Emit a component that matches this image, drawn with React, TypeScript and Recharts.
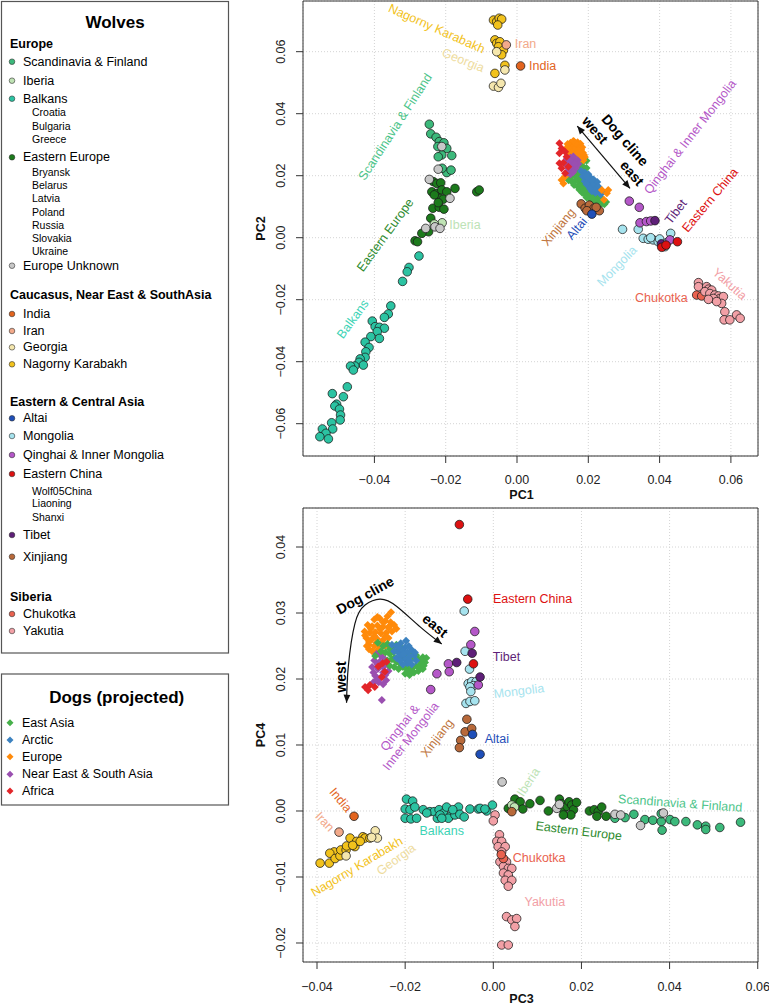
import React from 'react';
import { ScatterChart, Scatter, XAxis, YAxis, CartesianGrid, ReferenceArea, Curve } from 'recharts';

type Pt = [number, number];
const FONT = '"Liberation Sans", Arial, Helvetica, sans-serif';

// ---------- colours ----------
const C = {
  scandinavia: '#3CB97B', iberia: '#BFE3B4', balkans: '#2BC3A2', easternEurope: '#1C7A1C', unknown: '#C8C8C8',
  india: '#E2641E', iran: '#F2A98A', georgia: '#F5E7AE', karabakh: '#F2C21C',
  altai: '#1F4FB8', mongolia: '#A6E3EE', qinghai: '#B457C8', easternChina: '#DD1111', tibet: '#5E1F78', xinjiang: '#B8693A',
  chukotka: '#E9624F', yakutia: '#F2A0A6',
  dogEastAsia: '#46B04A', dogArctic: '#3C82C0', dogEurope: '#FF8A0A', dogNearEast: '#9A4FB0', dogAfrica: '#E2262A',
};

// ---------- axes ----------
const pc1Domain: Pt = [-0.06003, 0.0676];
const pc2Domain: Pt = [-0.07042, 0.07635];
const pc1Ticks = [-0.04, -0.02, 0, 0.02, 0.04, 0.06];
const pc2Ticks = [-0.06, -0.04, -0.02, 0, 0.02, 0.04, 0.06];
const pc3Domain: Pt = [-0.04318, 0.06006];
const pc4Domain: Pt = [-0.02288, 0.04591];
const pc3Ticks = [-0.04, -0.02, 0, 0.02, 0.04, 0.06];
const pc4Ticks = [-0.02, -0.01, 0, 0.01, 0.02, 0.03, 0.04];

// ---------- PC1 / PC2 wolves ----------
const pc12Scandinavia: Pt[] = [[-0.0246,0.0366],[-0.0242,0.0335],[-0.0227,0.0324],[-0.0218,0.0310],[-0.0222,0.0294],[-0.0205,0.0306],[-0.0197,0.0288],[-0.0211,0.0267],[-0.0183,0.0265],[-0.0221,0.0261],[-0.0197,0.0210],[-0.0185,0.0218],[-0.0210,0.0224]];
const pc12Iberia: Pt[] = [[-0.0210,0.0048],[-0.0232,0.0044]];
const pc12Unknown: Pt[] = [[-0.0211,0.0294],[-0.0221,0.0221],[-0.0246,0.0188],[-0.0188,0.0127],[-0.0230,0.0035],[-0.0216,0.0030],[-0.0256,0.0030]];
const pc12EasternEurope: Pt[] = [[-0.0235,0.0181],[-0.0225,0.0175],[-0.0214,0.0177],[-0.0239,0.0148],[-0.0225,0.0143],[-0.0211,0.0154],[-0.0197,0.0148],[-0.0174,0.0159],[-0.0216,0.0127],[-0.0207,0.0124],[-0.0232,0.0138],[-0.0236,0.0095],[-0.0218,0.0098],[-0.0205,0.0092],[-0.0221,0.0113],[-0.0113,0.0148],[-0.0106,0.0154],[-0.0242,0.0063],[-0.0248,0.0019],[-0.0267,0.0014],[-0.0286,-0.0010],[-0.0279,-0.0013]];
const pc12Balkans: Pt[] = [[-0.0275,-0.0059],[-0.0303,-0.0096],[-0.0308,-0.0110],[-0.0321,-0.0141],[-0.0354,-0.0220],[-0.0361,-0.0246],[-0.0372,-0.0257],[-0.0406,-0.0269],[-0.0398,-0.0287],[-0.0386,-0.0289],[-0.0372,-0.0292],[-0.0392,-0.0303],[-0.0386,-0.0325],[-0.0410,-0.0319],[-0.0426,-0.0337],[-0.0415,-0.0354],[-0.0424,-0.0368],[-0.0426,-0.0386],[-0.0440,-0.0391],[-0.0443,-0.0402],[-0.0431,-0.0411],[-0.0455,-0.0414],[-0.0467,-0.0414],[-0.0459,-0.0427],[-0.0476,-0.0481],[-0.0487,-0.0513],[-0.0518,-0.0503],[-0.0506,-0.0537],[-0.0511,-0.0543],[-0.0498,-0.0553],[-0.0495,-0.0572],[-0.0496,-0.0588],[-0.0520,-0.0597],[-0.0517,-0.0617],[-0.0546,-0.0617],[-0.0536,-0.0631],[-0.0553,-0.0642],[-0.0529,-0.0649]];
const pc12Karabakh: Pt[] = [[-0.0066,0.0702],[-0.0057,0.0697],[-0.0050,0.0708],[-0.0043,0.0705],[-0.0054,0.0686],[-0.0062,0.0638],[-0.0057,0.0627],[-0.0048,0.0632],[-0.0052,0.0616],[-0.0038,0.0605],[-0.0043,0.0590],[-0.0034,0.0556],[-0.0062,0.0530]];
const pc12Georgia: Pt[] = [[-0.0057,0.0600],[-0.0034,0.0541],[-0.0066,0.0489],[-0.0052,0.0485],[-0.0045,0.0498]];
const pc12Iran: Pt[] = [[-0.0030,0.0622]];
const pc12India: Pt[] = [[0.0010,0.0554]];
const pc12Xinjiang: Pt[] = [[0.0180,0.0109],[0.0191,0.0095],[0.0203,0.0105],[0.0216,0.0095],[0.0231,0.0087],[0.0222,0.0098],[0.0196,0.0087]];
const pc12Altai: Pt[] = [[0.0210,0.0076]];
const pc12Mongolia: Pt[] = [[0.0296,0.0027],[0.0340,0.0027],[0.0431,0.0014],[0.0354,-0.0002],[0.0368,-0.0005],[0.0382,-0.0007],[0.0396,-0.0013],[0.0420,-0.0016],[0.0415,-0.0029],[0.0375,0.0000],[0.0400,-0.0004]];
const pc12Qinghai: Pt[] = [[0.0315,0.0118],[0.0343,0.0098],[0.0345,0.0048],[0.0363,0.0052],[0.0375,0.0054],[0.0429,-0.0007]];
const pc12Tibet: Pt[] = [[0.0387,0.0055],[0.0410,-0.0026],[0.0405,-0.0020]];
const pc12EasternChina: Pt[] = [[0.0450,-0.0013],[0.0406,-0.0031],[0.0418,-0.0024]];
const pc12Chukotka: Pt[] = [[0.0504,-0.0185],[0.0518,-0.0188]];
const pc12Yakutia: Pt[] = [[0.0509,-0.0145],[0.0509,-0.0158],[0.0532,-0.0158],[0.0537,-0.0166],[0.0546,-0.0169],[0.0527,-0.0174],[0.0541,-0.0180],[0.0555,-0.0185],[0.0565,-0.0188],[0.0569,-0.0196],[0.0579,-0.0190],[0.0551,-0.0196],[0.0537,-0.0199],[0.0574,-0.0212],[0.0583,-0.0239],[0.0581,-0.0265],[0.0597,-0.0265],[0.0616,-0.0249],[0.0626,-0.0260],[0.0560,-0.0206]];

// ---------- PC1 / PC2 dogs ----------
const pc12DogEurope: Pt[] = [[0.0150,0.0306],[0.0160,0.0310],[0.0170,0.0308],[0.0178,0.0303],[0.0145,0.0298],[0.0155,0.0299],[0.0165,0.0300],[0.0175,0.0296],[0.0183,0.0292],[0.0140,0.0290],[0.0150,0.0289],[0.0160,0.0291],[0.0170,0.0288],[0.0180,0.0284],[0.0145,0.0280],[0.0155,0.0281],[0.0165,0.0279],[0.0175,0.0276],[0.0185,0.0274],[0.0150,0.0271],[0.0160,0.0268],[0.0170,0.0266],[0.0180,0.0264],[0.0190,0.0260],[0.0176,0.0255],[0.0186,0.0250],[0.0238,0.0154],[0.0252,0.0143],[0.0244,0.0122],[0.0256,0.0154],[0.0125,0.0186],[0.0135,0.0197],[0.0130,0.0175],[0.0142,0.0302],[0.0157,0.0294],[0.0168,0.0293],[0.0148,0.0285],[0.0162,0.0285],[0.0172,0.0282],[0.0155,0.0275],[0.0168,0.0272],[0.0178,0.0270],[0.0188,0.0267],[0.0163,0.0262],[0.0173,0.0259],[0.0182,0.0256],[0.0165,0.0304],[0.0158,0.0312]];
const pc12DogNearEast: Pt[] = [[0.0140,0.0255],[0.0150,0.0258],[0.0160,0.0253],[0.0170,0.0250],[0.0145,0.0244],[0.0155,0.0246],[0.0165,0.0241],[0.0140,0.0233],[0.0150,0.0235],[0.0160,0.0230],[0.0172,0.0238],[0.0145,0.0222],[0.0155,0.0219],[0.0140,0.0210],[0.0165,0.0225],[0.0150,0.0205],[0.0158,0.0262],[0.0148,0.0250],[0.0162,0.0238],[0.0148,0.0228],[0.0158,0.0212],[0.0142,0.0240]];
const pc12DogAfrica: Pt[] = [[0.0119,0.0305],[0.0125,0.0288],[0.0119,0.0272],[0.0135,0.0277],[0.0119,0.0240],[0.0130,0.0242],[0.0139,0.0261],[0.0125,0.0224],[0.0135,0.0208],[0.0144,0.0229]];
const pc12DogEastAsia: Pt[] = [[0.0178,0.0262],[0.0188,0.0256],[0.0195,0.0248],[0.0170,0.0242],[0.0180,0.0240],[0.0150,0.0228],[0.0160,0.0222],[0.0170,0.0226],[0.0180,0.0220],[0.0140,0.0200],[0.0150,0.0195],[0.0160,0.0205],[0.0170,0.0200],[0.0145,0.0185],[0.0155,0.0180],[0.0165,0.0185],[0.0175,0.0178],[0.0160,0.0170],[0.0170,0.0165],[0.0180,0.0168],[0.0190,0.0172],[0.0175,0.0155],[0.0185,0.0152],[0.0195,0.0150],[0.0205,0.0148],[0.0190,0.0140],[0.0200,0.0135],[0.0210,0.0138],[0.0220,0.0135],[0.0205,0.0125],[0.0215,0.0122],[0.0225,0.0125],[0.0235,0.0130],[0.0220,0.0115],[0.0230,0.0112],[0.0240,0.0118],[0.0245,0.0108],[0.0225,0.0105],[0.0200,0.0160],[0.0210,0.0175],[0.0185,0.0230],[0.0195,0.0225],[0.0165,0.0212],[0.0175,0.0208],[0.0185,0.0205],[0.0150,0.0212],[0.0168,0.0192],[0.0180,0.0188],[0.0185,0.0160],[0.0197,0.0158],[0.0212,0.0130],[0.0228,0.0140],[0.0238,0.0110],[0.0250,0.0115],[0.0195,0.0130],[0.0183,0.0145]];
const pc12DogArctic: Pt[] = [[0.0180,0.0215],[0.0190,0.0210],[0.0200,0.0205],[0.0185,0.0198],[0.0195,0.0192],[0.0205,0.0195],[0.0215,0.0188],[0.0190,0.0182],[0.0200,0.0178],[0.0210,0.0175],[0.0220,0.0170],[0.0205,0.0165],[0.0215,0.0160],[0.0225,0.0158],[0.0230,0.0150],[0.0220,0.0145],[0.0235,0.0140],[0.0210,0.0150],[0.0200,0.0190],[0.0225,0.0180],[0.0195,0.0200],[0.0210,0.0185],[0.0195,0.0172],[0.0212,0.0168],[0.0228,0.0165],[0.0218,0.0152],[0.0240,0.0148],[0.0205,0.0158]];

// ---------- PC3 / PC4 wolves ----------
const pc34Scandinavia: Pt[] = [[0.0276,-0.0011],[0.0299,-0.0010],[0.0319,-0.0005],[0.0344,-0.0013],[0.0362,-0.0014],[0.0381,-0.0016],[0.0381,-0.0004],[0.0383,-0.0029],[0.0401,-0.0013],[0.0412,-0.0016],[0.0437,-0.0016],[0.0463,-0.0021],[0.0482,-0.0023],[0.0482,-0.0028],[0.0514,-0.0025],[0.0561,-0.0017]];
const pc34Iberia: Pt[] = [[0.0042,0.0009],[0.0048,0.0006]];
const pc34Unknown: Pt[] = [[0.0020,0.0044],[0.0144,0.0004],[0.0150,0.0010],[0.0276,-0.0005],[0.0289,-0.0006],[0.0334,-0.0022],[0.0386,-0.0003]];
const pc34EasternEurope: Pt[] = [[0.0049,0.0018],[0.0061,0.0014],[0.0034,0.0004],[0.0067,0.0003],[0.0083,0.0011],[0.0106,0.0016],[0.0125,0.0000],[0.0150,0.0018],[0.0155,0.0011],[0.0159,0.0002],[0.0167,0.0007],[0.0172,0.0014],[0.0178,0.0009],[0.0182,0.0002],[0.0189,0.0013],[0.0176,-0.0006],[0.0159,-0.0006],[0.0218,0.0000],[0.0229,0.0002],[0.0238,-0.0001],[0.0246,0.0006],[0.0235,-0.0008],[0.0256,-0.0008]];
const pc34Balkans: Pt[] = [[-0.0197,0.0018],[-0.0183,0.0015],[-0.0200,0.0003],[-0.0189,0.0002],[-0.0178,0.0006],[-0.0200,-0.0011],[-0.0187,-0.0012],[-0.0174,-0.0011],[-0.0159,0.0002],[-0.0144,-0.0001],[-0.0134,-0.0001],[-0.0123,0.0002],[-0.0113,-0.0003],[-0.0106,0.0006],[-0.0098,-0.0008],[-0.0102,-0.0011],[-0.0087,-0.0006],[-0.0079,0.0006],[-0.0076,-0.0005],[-0.0066,-0.0009],[-0.0127,-0.0011],[-0.0121,-0.0006],[-0.0092,0.0002],[-0.0117,-0.0011],[-0.0151,-0.0003],[-0.0053,0.0003],[-0.0034,0.0003],[-0.0015,0.0000],[-0.0002,0.0009],[-0.0030,0.0004],[-0.0019,0.0003]];
const pc34Karabakh: Pt[] = [[-0.0393,-0.0079],[-0.0372,-0.0079],[-0.0361,-0.0062],[-0.0371,-0.0064],[-0.0359,-0.0072],[-0.0348,-0.0068],[-0.0346,-0.0059],[-0.0334,-0.0059],[-0.0333,-0.0053],[-0.0325,-0.0041],[-0.0314,-0.0054],[-0.0310,-0.0046],[-0.0296,-0.0039],[-0.0291,-0.0041],[-0.0280,-0.0041],[-0.0319,-0.0052],[-0.0302,-0.0046]];
const pc34Georgia: Pt[] = [[-0.0268,-0.0030],[-0.0263,-0.0041],[-0.0334,-0.0068],[-0.0276,-0.0040]];
const pc34Iran: Pt[] = [[-0.0350,-0.0032]];
const pc34India: Pt[] = [[-0.0316,-0.0008]];
const pc34Xinjiang: Pt[] = [[-0.0060,0.0139],[-0.0064,0.0120],[-0.0049,0.0125],[-0.0074,0.0107],[-0.0077,0.0096],[0.0042,-0.0001]];
const pc34Altai: Pt[] = [[-0.0047,0.0116],[-0.0030,0.0086]];
const pc34Mongolia: Pt[] = [[-0.0066,0.0303],[-0.0064,0.0242],[-0.0054,0.0215],[-0.0057,0.0193],[-0.0049,0.0196],[-0.0039,0.0196],[-0.0045,0.0190],[-0.0053,0.0188],[-0.0051,0.0181],[-0.0062,0.0163],[-0.0053,0.0166],[-0.0042,0.0167]];
const pc34Qinghai: Pt[] = [[-0.0042,0.0272],[-0.0051,0.0252],[-0.0102,0.0223],[-0.0100,0.0211],[-0.0034,0.0191],[-0.0142,0.0184],[-0.0128,0.0208]];
const pc34Tibet: Pt[] = [[-0.0048,0.0239],[-0.0083,0.0225],[-0.0030,0.0203]];
const pc34EasternChina: Pt[] = [[-0.0077,0.0434],[-0.0058,0.0321],[-0.0045,0.0223]];
const pc34Chukotka: Pt[] = [[0.0023,-0.0072],[0.0018,-0.0066]];
const pc34Yakutia: Pt[] = [[0.0004,-0.0006],[0.0000,-0.0015],[0.0014,-0.0036],[0.0008,-0.0046],[0.0019,-0.0046],[0.0011,-0.0054],[0.0027,-0.0054],[0.0019,-0.0062],[0.0015,-0.0077],[0.0030,-0.0077],[0.0023,-0.0084],[0.0034,-0.0087],[0.0042,-0.0087],[0.0023,-0.0094],[0.0034,-0.0097],[0.0027,-0.0105],[0.0042,-0.0105],[0.0034,-0.0114],[0.0030,-0.0160],[0.0042,-0.0165],[0.0053,-0.0163],[0.0049,-0.0175],[0.0019,-0.0203],[0.0034,-0.0203]];

// ---------- PC3 / PC4 dogs ----------
const pc34DogEurope: Pt[] = [[-0.0232,0.0301],[-0.0270,0.0290],[-0.0258,0.0292],[-0.0245,0.0288],[-0.0233,0.0286],[-0.0285,0.0282],[-0.0275,0.0280],[-0.0263,0.0281],[-0.0250,0.0279],[-0.0238,0.0278],[-0.0225,0.0282],[-0.0292,0.0272],[-0.0280,0.0270],[-0.0268,0.0271],[-0.0255,0.0269],[-0.0243,0.0270],[-0.0230,0.0272],[-0.0288,0.0262],[-0.0276,0.0260],[-0.0264,0.0261],[-0.0250,0.0259],[-0.0238,0.0262],[-0.0283,0.0252],[-0.0270,0.0250],[-0.0258,0.0252],[-0.0245,0.0250],[-0.0275,0.0242],[-0.0262,0.0244],[-0.0252,0.0240],[-0.0282,0.0245],[-0.0263,0.0294],[-0.0250,0.0286],[-0.0278,0.0276],[-0.0257,0.0275],[-0.0236,0.0280],[-0.0291,0.0266],[-0.0270,0.0265],[-0.0245,0.0264],[-0.0282,0.0256],[-0.0265,0.0255],[-0.0252,0.0254],[-0.0287,0.0250],[-0.0240,0.0295],[-0.0220,0.0276]];
const pc34DogNearEast: Pt[] = [[-0.0265,0.0238],[-0.0255,0.0235],[-0.0270,0.0228],[-0.0258,0.0226],[-0.0246,0.0230],[-0.0275,0.0218],[-0.0262,0.0215],[-0.0250,0.0218],[-0.0240,0.0222],[-0.0268,0.0205],[-0.0256,0.0202],[-0.0245,0.0206],[-0.0260,0.0195],[-0.0250,0.0192],[-0.0238,0.0212],[-0.0253,0.0168],[-0.0272,0.0195],[-0.0262,0.0222],[-0.0250,0.0210],[-0.0265,0.0198],[-0.0243,0.0198],[-0.0272,0.0210]];
const pc34DogAfrica: Pt[] = [[-0.0291,0.0188],[-0.0280,0.0191],[-0.0269,0.0188],[-0.0284,0.0183],[-0.0261,0.0219],[-0.0251,0.0224],[-0.0246,0.0211],[-0.0253,0.0203],[-0.0242,0.0226]];
const pc34DogEastAsia: Pt[] = [[-0.0262,0.0255],[-0.0250,0.0250],[-0.0240,0.0253],[-0.0230,0.0248],[-0.0220,0.0252],[-0.0255,0.0242],[-0.0245,0.0240],[-0.0235,0.0238],[-0.0225,0.0241],[-0.0215,0.0244],[-0.0205,0.0240],[-0.0240,0.0228],[-0.0230,0.0230],[-0.0220,0.0226],[-0.0210,0.0230],[-0.0200,0.0232],[-0.0190,0.0228],[-0.0180,0.0232],[-0.0170,0.0230],[-0.0160,0.0233],[-0.0225,0.0218],[-0.0215,0.0215],[-0.0205,0.0218],[-0.0195,0.0214],[-0.0185,0.0216],[-0.0175,0.0220],[-0.0165,0.0222],[-0.0155,0.0225],[-0.0200,0.0208],[-0.0190,0.0206],[-0.0180,0.0210],[-0.0170,0.0212],[-0.0160,0.0215],[-0.0152,0.0232],[-0.0268,0.0235],[-0.0235,0.0220],[-0.0235,0.0245],[-0.0210,0.0248],[-0.0198,0.0236],[-0.0186,0.0238],[-0.0175,0.0236],[-0.0163,0.0228],[-0.0210,0.0222],[-0.0196,0.0220],[-0.0168,0.0217],[-0.0185,0.0212],[-0.0158,0.0220],[-0.0225,0.0232],[-0.0195,0.0210]];
const pc34DogArctic: Pt[] = [[-0.0230,0.0252],[-0.0220,0.0250],[-0.0210,0.0254],[-0.0200,0.0248],[-0.0225,0.0242],[-0.0215,0.0240],[-0.0205,0.0243],[-0.0195,0.0240],[-0.0185,0.0244],[-0.0220,0.0232],[-0.0210,0.0235],[-0.0200,0.0230],[-0.0190,0.0234],[-0.0180,0.0236],[-0.0195,0.0224],[-0.0185,0.0222],[-0.0205,0.0222],[-0.0175,0.0228],[-0.0198,0.0258],[-0.0215,0.0248],[-0.0192,0.0250],[-0.0212,0.0228],[-0.0190,0.0228],[-0.0178,0.0240],[-0.0203,0.0238]];

// ---------- annotations ----------
const pc12Cline: Pt[] = [[0.0169,0.0360],[0.0317,0.0159]];
const pc34Cline: Pt[] = [[-0.0333,0.0164],[-0.0329,0.0219],[-0.0314,0.0284],[-0.0291,0.0312],[-0.0257,0.0321],[-0.0219,0.0310],[-0.0166,0.0279],[-0.0117,0.0253]];

type Lab = { text: string; x: number; y: number; angle: number; color?: string; bold?: boolean };
const pc12Labels: Lab[] = [
  { text: 'Nagorny Karabakh', x: -0.0225, y: 0.0675, angle: 24, color: '#F2C21C' },
  { text: 'Georgia', x: -0.0151, y: 0.0573, angle: 22, color: '#EEDC9E' },
  { text: 'Iran', x: 0.0024, y: 0.0627, angle: 0, color: '#F2A98A' },
  { text: 'India', x: 0.0072, y: 0.0554, angle: 0, color: '#E2641E' },
  { text: 'Scandinavia & Finland', x: -0.0342, y: 0.0358, angle: -57, color: '#4CC489' },
  { text: 'Eastern Europe', x: -0.0370, y: 0.0009, angle: -54, color: '#2E8B2E' },
  { text: 'Iberia', x: -0.0146, y: 0.0041, angle: 0, color: '#BDE3B6' },
  { text: 'Balkans', x: -0.0461, y: -0.0262, angle: -54, color: '#3DD3B5' },
  { text: 'Dog cline', x: 0.0303, y: 0.0315, angle: 49, bold: true },
  { text: 'west', x: 0.0219, y: 0.0347, angle: 49, bold: true },
  { text: 'east', x: 0.0323, y: 0.0208, angle: 49, bold: true },
  { text: 'Qinghai & Inner Mongolia', x: 0.0485, y: 0.0326, angle: -52, color: '#B457C8' },
  { text: 'Tibet', x: 0.0445, y: 0.0084, angle: -52, color: '#5E1F78' },
  { text: 'Eastern China', x: 0.0541, y: 0.0122, angle: -50, color: '#DD1111' },
  { text: 'Xinjiang', x: 0.0116, y: 0.0035, angle: -50, color: '#C0763E' },
  { text: 'Altai', x: 0.0167, y: 0.0030, angle: -50, color: '#1F4FB8' },
  { text: 'Mongolia', x: 0.0280, y: -0.0091, angle: -46, color: '#A6E3EE' },
  { text: 'Chukotka', x: 0.0405, y: -0.0192, angle: 0, color: '#E9624F' },
  { text: 'Yakutia', x: 0.0597, y: -0.0149, angle: 42, color: '#F2A0A6' },
];
const pc34Labels: Lab[] = [
  { text: 'Eastern China', x: 0.0089, y: 0.0322, angle: 0, color: '#DD1111' },
  { text: 'Tibet', x: 0.0030, y: 0.0234, angle: 0, color: '#5E1F78' },
  { text: 'Mongolia', x: 0.0058, y: 0.0182, angle: -7, color: '#A6E3EE' },
  { text: 'Altai', x: 0.0008, y: 0.0109, angle: 0, color: '#1F4FB8' },
  { text: 'Xinjiang', x: -0.0128, y: 0.0111, angle: -52, color: '#C0763E' },
  { text: 'Qinghai &\nInner Mongolia', x: -0.0200, y: 0.0120, angle: -52, color: '#B457C8' },
  { text: 'Dog cline', x: -0.0291, y: 0.0327, angle: -29, bold: true },
  { text: 'east', x: -0.0132, y: 0.0281, angle: 40, bold: true },
  { text: 'west', x: -0.0346, y: 0.0203, angle: -90, bold: true },
  { text: 'India', x: -0.0346, y: 0.0017, angle: 50, color: '#E2641E' },
  { text: 'Iran', x: -0.0382, y: -0.0016, angle: 47, color: '#F2A98A' },
  { text: 'Nagorny Karabakh', x: -0.0310, y: -0.0084, angle: -31, color: '#F2C21C' },
  { text: 'Georgia', x: -0.0221, y: -0.0073, angle: -36, color: '#EEDC9E' },
  { text: 'Balkans', x: -0.0117, y: -0.0030, angle: 0, color: '#3DD3B5' },
  { text: 'Iberia', x: 0.0079, y: 0.0044, angle: -57, color: '#BDE3B6' },
  { text: 'Eastern Europe', x: 0.0194, y: -0.0030, angle: 7, color: '#2E8B2E' },
  { text: 'Scandinavia & Finland', x: 0.0424, y: 0.0012, angle: 4, color: '#4CC489' },
  { text: 'Chukotka', x: 0.0104, y: -0.0070, angle: 0, color: '#E9624F' },
  { text: 'Yakutia', x: 0.0117, y: -0.0138, angle: 0, color: '#F2A0A6' },
];

// ---------- series tables ----------
type Series = { name: string; color: string; pts: Pt[] };
const pc12Dogs: Series[] = [
  { name: 'East Asia', color: C.dogEastAsia, pts: pc12DogEastAsia },
  { name: 'Arctic', color: C.dogArctic, pts: pc12DogArctic },
  { name: 'Europe', color: C.dogEurope, pts: pc12DogEurope },
  { name: 'Near East & South Asia', color: C.dogNearEast, pts: pc12DogNearEast },
  { name: 'Africa', color: C.dogAfrica, pts: pc12DogAfrica },
];
const pc34Dogs: Series[] = [
  { name: 'Europe', color: C.dogEurope, pts: pc34DogEurope },
  { name: 'Near East & South Asia', color: C.dogNearEast, pts: pc34DogNearEast },
  { name: 'East Asia', color: C.dogEastAsia, pts: pc34DogEastAsia },
  { name: 'Arctic', color: C.dogArctic, pts: pc34DogArctic },
  { name: 'Africa', color: C.dogAfrica, pts: pc34DogAfrica },
];
const pc12Wolves: Series[] = [
  { name: 'Balkans', color: C.balkans, pts: pc12Balkans },
  { name: 'Scandinavia & Finland', color: C.scandinavia, pts: pc12Scandinavia },
  { name: 'Eastern Europe', color: C.easternEurope, pts: pc12EasternEurope },
  { name: 'Iberia', color: C.iberia, pts: pc12Iberia },
  { name: 'Europe Unknown', color: C.unknown, pts: pc12Unknown },
  { name: 'Nagorny Karabakh', color: C.karabakh, pts: pc12Karabakh },
  { name: 'Georgia', color: C.georgia, pts: pc12Georgia },
  { name: 'Iran', color: C.iran, pts: pc12Iran },
  { name: 'India', color: C.india, pts: pc12India },
  { name: 'Xinjiang', color: C.xinjiang, pts: pc12Xinjiang },
  { name: 'Altai', color: C.altai, pts: pc12Altai },
  { name: 'Mongolia', color: C.mongolia, pts: pc12Mongolia },
  { name: 'Qinghai & Inner Mongolia', color: C.qinghai, pts: pc12Qinghai },
  { name: 'Tibet', color: C.tibet, pts: pc12Tibet },
  { name: 'Eastern China', color: C.easternChina, pts: pc12EasternChina },
  { name: 'Chukotka', color: C.chukotka, pts: pc12Chukotka },
  { name: 'Yakutia', color: C.yakutia, pts: pc12Yakutia },
];
const pc34Wolves: Series[] = [
  { name: 'Balkans', color: C.balkans, pts: pc34Balkans },
  { name: 'Scandinavia & Finland', color: C.scandinavia, pts: pc34Scandinavia },
  { name: 'Eastern Europe', color: C.easternEurope, pts: pc34EasternEurope },
  { name: 'Europe Unknown', color: C.unknown, pts: pc34Unknown },
  { name: 'Iberia', color: C.iberia, pts: pc34Iberia },
  { name: 'Nagorny Karabakh', color: C.karabakh, pts: pc34Karabakh },
  { name: 'Georgia', color: C.georgia, pts: pc34Georgia },
  { name: 'Iran', color: C.iran, pts: pc34Iran },
  { name: 'India', color: C.india, pts: pc34India },
  { name: 'Yakutia', color: C.yakutia, pts: pc34Yakutia },
  { name: 'Chukotka', color: C.chukotka, pts: pc34Chukotka },
  { name: 'Xinjiang', color: C.xinjiang, pts: pc34Xinjiang },
  { name: 'Altai', color: C.altai, pts: pc34Altai },
  { name: 'Mongolia', color: C.mongolia, pts: pc34Mongolia },
  { name: 'Qinghai & Inner Mongolia', color: C.qinghai, pts: pc34Qinghai },
  { name: 'Tibet', color: C.tibet, pts: pc34Tibet },
  { name: 'Eastern China', color: C.easternChina, pts: pc34EasternChina },
];

// ---------- legend text ----------
const wolvesLegendRows: [string, string, string | null, number][] = [
  ['head', 'Europe', null, 44],
  ['item', 'Scandinavia & Finland', C.scandinavia, 61.7],
  ['item', 'Iberia', C.iberia, 80.7],
  ['item', 'Balkans', C.balkans, 98.7],
  ['sub', 'Croatia', null, 112.3],
  ['sub', 'Bulgaria', null, 125.7],
  ['sub', 'Greece', null, 139],
  ['item', 'Eastern Europe', C.easternEurope, 157.3],
  ['sub', 'Bryansk', null, 172],
  ['sub', 'Belarus', null, 185],
  ['sub', 'Latvia', null, 198.3],
  ['sub', 'Poland', null, 211.7],
  ['sub', 'Russia', null, 225],
  ['sub', 'Slovakia', null, 238],
  ['sub', 'Ukraine', null, 251],
  ['item', 'Europe Unknown', C.unknown, 265.7],
  ['head', 'Caucasus, Near East & SouthAsia', null, 295],
  ['item', 'India', C.india, 314],
  ['item', 'Iran', C.iran, 331],
  ['item', 'Georgia', C.georgia, 347.3],
  ['item', 'Nagorny Karabakh', C.karabakh, 364.3],
  ['head', 'Eastern & Central Asia', null, 401.7],
  ['item', 'Altai', C.altai, 418.3],
  ['item', 'Mongolia', C.mongolia, 436],
  ['item', 'Qinghai & Inner Mongolia', C.qinghai, 455],
  ['item', 'Eastern China', C.easternChina, 474],
  ['sub', 'Wolf05China', null, 490.7],
  ['sub', 'Liaoning', null, 503.3],
  ['sub', 'Shanxi', null, 516.7],
  ['item', 'Tibet', C.tibet, 535],
  ['item', 'Xinjiang', C.xinjiang, 556.7],
  ['head', 'Siberia', null, 596.7],
  ['item', 'Chukotka', C.chukotka, 614],
  ['item', 'Yakutia', C.yakutia, 631],
];
const dogLegendRows: [string, string, number][] = [
  ['East Asia', C.dogEastAsia, 722.7],
  ['Arctic', C.dogArctic, 740],
  ['Europe', C.dogEurope, 756.7],
  ['Near East & South Asia', C.dogNearEast, 774.3],
  ['Africa', C.dogAfrica, 791],
];

// ---------- helpers ----------
const toObjs = (a: Pt[]) => a.map(([x, y]) => ({ x, y }));
const fmt = (v: number) => (v < 0 ? '\u2212' : '') + Math.abs(v).toFixed(2);

const circleShape = (color: string) => (p: any) => (
  <circle cx={p.cx} cy={p.cy} r={4.3} fill={color} stroke="#1a1a1a" strokeWidth={0.75} />
);
const diamondShape = (color: string) => (p: any) => {
  const s = 4;
  return <polygon points={`${p.cx},${p.cy - s} ${p.cx + s},${p.cy} ${p.cx},${p.cy + s} ${p.cx - s},${p.cy}`} fill={color} />;
};
const labelShape = (p: any) => {
  const d: Lab = p.payload;
  const lines = d.text.split('\n');
  const { cx, cy } = p;
  return (
    <text x={cx} y={cy} transform={`rotate(${d.angle} ${cx} ${cy})`} textAnchor="middle"
      fill={d.color || '#000'} fontSize={d.bold ? 14 : 12.5} fontWeight={d.bold ? 'bold' : 'normal'} fontFamily={FONT}>
      {lines.map((l, i) => (
        <tspan key={i} x={cx} dy={i === 0 ? `${0.35 - (lines.length - 1) * 0.55}em` : '1.1em'}>{l}</tspan>
      ))}
    </text>
  );
};
const arrowHead = (from: any, to: any, key: string) => {
  const a = Math.atan2(to.y - from.y, to.x - from.x);
  const L = 8, W = 3.4;
  const bx = to.x - L * Math.cos(a), by = to.y - L * Math.sin(a);
  const px = -Math.sin(a) * W, py = Math.cos(a) * W;
  return <polygon key={key} points={`${to.x},${to.y} ${bx + px},${by + py} ${bx - px},${by - py}`} fill="#111" />;
};
const arrowLine = (curveType: string) => (lp: any) => {
  const pts = lp.points as { x: number; y: number }[];
  const n = pts.length;
  return (
    <g>
      <Curve points={pts as any} type={curveType as any} stroke="#111" fill="none" strokeWidth={1.2} />
      {arrowHead(pts[1], pts[0], 's')}
      {arrowHead(pts[n - 2], pts[n - 1], 'e')}
    </g>
  );
};

const xTick = (dy: number) => (p: any) => (
  <text x={p.x} y={p.y} dy={dy} textAnchor="middle" fontSize={12.5} fill="#222" fontFamily={FONT}>{fmt(p.payload.value)}</text>
);
const yTick = (p: any) => {
  const x = p.x - 9;
  return (
    <text x={x} y={p.y} transform={`rotate(-90 ${x} ${p.y})`} textAnchor="middle" fontSize={12.5} fill="#222" fontFamily={FONT}>{fmt(p.payload.value)}</text>
  );
};

type PanelProps = {
  top: number; height: number; marginTop: number; axisH: number; titleBaseline: number;
  xDomain: Pt; yDomain: Pt; xTicks: number[]; yTicks: number[];
  xTitle: string; yTitle: string; xTickDy: number;
  dogs: Series[]; wolves: Series[]; labels: Lab[]; cline: Pt[]; clineType: string;
};

const Panel = (p: PanelProps) => {
  const plotTop = p.marginTop;
  const plotH = p.height - p.marginTop - p.axisH;
  return (
    <div style={{ position: 'absolute', left: 0, top: p.top }}>
      <ScatterChart width={769} height={p.height} margin={{ top: p.marginTop, right: 11, bottom: 0, left: 0 }}>
        <CartesianGrid stroke="#d4d4d4" strokeDasharray="1 2" />
        <XAxis type="number" dataKey="x" domain={p.xDomain} ticks={p.xTicks} allowDataOverflow interval={0}
          axisLine={false} tickSize={7} tickLine={{ stroke: '#333' }} tick={xTick(p.xTickDy)} height={p.axisH}
          label={{
            content: () => (
              <text x={303 + 455 / 2 - 9} y={p.titleBaseline} textAnchor="middle" fontWeight="bold" fontSize={12.5} fontFamily={FONT} fill="#111">{p.xTitle}</text>
            ),
          }} />
        <YAxis type="number" dataKey="y" domain={p.yDomain} ticks={p.yTicks} allowDataOverflow interval={0}
          axisLine={false} tickSize={7} tickLine={{ stroke: '#333' }} tick={yTick} width={303}
          label={{
            content: () => {
              const cy = plotTop + plotH / 2;
              return <text x={265} y={cy} transform={`rotate(-90 265 ${cy})`} textAnchor="middle" fontWeight="bold" fontSize={12.5} fontFamily={FONT} fill="#111">{p.yTitle}</text>;
            },
          }} />
        {p.dogs.map((d) => (
          <Scatter key={'dog-' + d.name} name={d.name} data={toObjs(d.pts)} shape={diamondShape(d.color)} isAnimationActive={false} />
        ))}
        {p.wolves.map((w) => (
          <Scatter key={'wolf-' + w.name} name={w.name} data={toObjs(w.pts)} shape={circleShape(w.color)} isAnimationActive={false} />
        ))}
        <Scatter data={toObjs(p.cline)} line={arrowLine(p.clineType) as any} lineType="joint" shape={() => <g />} isAnimationActive={false} />
        <Scatter data={p.labels} shape={labelShape} isAnimationActive={false} />
        <ReferenceArea x1={p.xDomain[0]} x2={p.xDomain[1]} y1={p.yDomain[0]} y2={p.yDomain[1]} fill="none" fillOpacity={0} stroke="#333" strokeWidth={1} ifOverflow="visible" />
      </ScatterChart>
    </div>
  );
};

const Legends = () => (
  <svg width={232} height={810} style={{ position: 'absolute', left: 0, top: 0 }} fontFamily={FONT}>
    <rect x={1.5} y={1.5} width={227} height={651.5} fill="#fff" stroke="#555" strokeWidth={1.2} />
    <text x={115} y={22} textAnchor="middle" dominantBaseline="central" fontWeight="bold" fontSize={17} fill="#000">Wolves</text>
    {wolvesLegendRows.map(([kind, text, color, y]) => {
      if (kind === 'head') return <text key={text} x={10} y={y} dominantBaseline="central" fontWeight="bold" fontSize={12.5} fill="#000">{text}</text>;
      if (kind === 'sub') return <text key={text} x={32} y={y} dominantBaseline="central" fontSize={10.5} fill="#000">{text}</text>;
      return (
        <g key={text}>
          <circle cx={12} cy={y} r={2.8} fill={color as string} stroke="#333" strokeWidth={0.6} />
          <text x={23} y={y} dominantBaseline="central" fontSize={12.5} fill="#000">{text}</text>
        </g>
      );
    })}
    <rect x={1.5} y={674} width={227} height={131} fill="#fff" stroke="#555" strokeWidth={1.2} />
    <text x={116.7} y={697.3} textAnchor="middle" dominantBaseline="central" fontWeight="bold" fontSize={17} fill="#000">Dogs (projected)</text>
    {dogLegendRows.map(([text, color, y]) => (
      <g key={text}>
        <polygon points={`10,${y - 3.5} 13.5,${y} 10,${y + 3.5} 6.5,${y}`} fill={color} />
        <text x={22} y={y} dominantBaseline="central" fontSize={12.5} fill="#000">{text}</text>
      </g>
    ))}
  </svg>
);

export default function App() {
  return (
    <div style={{ position: 'absolute', left: 0, top: 0, width: 769, height: 1006, background: '#fff', fontFamily: FONT }}>
      <Panel top={0} height={508} marginTop={1} axisH={52} titleBaseline={498.5} xDomain={pc1Domain} yDomain={pc2Domain} xTicks={pc1Ticks} yTicks={pc2Ticks}
        xTitle="PC1" yTitle="PC2" xTickDy={18.5} dogs={pc12Dogs} wolves={pc12Wolves} labels={pc12Labels} cline={pc12Cline} clineType="linear" />
      <Panel top={500} height={506} marginTop={8} axisH={44} titleBaseline={502.5} xDomain={pc3Domain} yDomain={pc4Domain} xTicks={pc3Ticks} yTicks={pc4Ticks}
        xTitle="PC3" yTitle="PC4" xTickDy={20} dogs={pc34Dogs} wolves={pc34Wolves} labels={pc34Labels} cline={pc34Cline} clineType="natural" />
      <Legends />
    </div>
  );
}
